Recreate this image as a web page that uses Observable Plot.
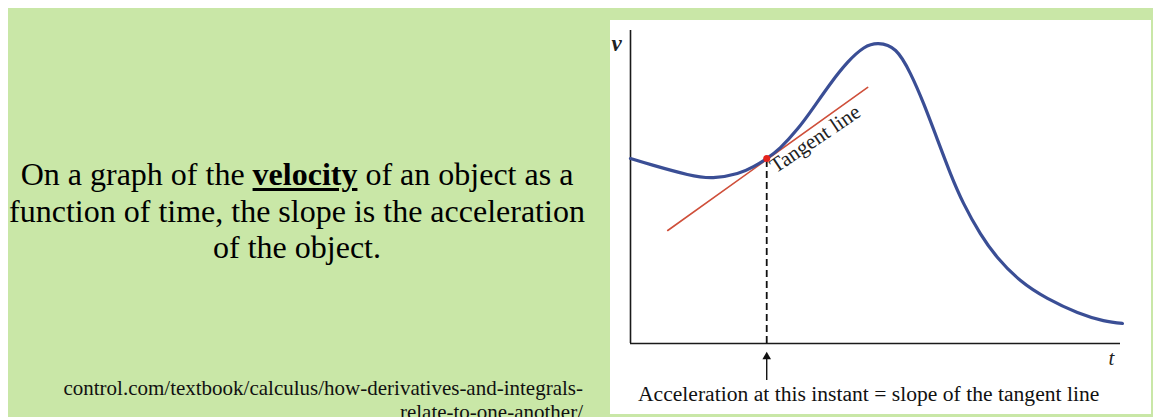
<!DOCTYPE html>
<html>
<head>
<meta charset="utf-8">
<script src="https://cdn.jsdelivr.net/npm/d3@7"></script>
<script src="https://cdn.jsdelivr.net/npm/@observablehq/plot@0.6"></script>
<style>
  html, body { margin: 0; padding: 0; background: #fff; overflow: hidden; }
  #slide { position: absolute; left: 8px; top: 8px; width: 1145px; height: 409px; background: #c9e7a7; }
  #main { position: absolute; left: 0; top: 156px; width: 594px; text-align: center; white-space: nowrap;
          font-family: "Liberation Serif", serif; font-size: 32px; line-height: 36.5px; color: #000; }
  #main b { text-decoration: underline; text-decoration-thickness: 3px; text-underline-offset: 3px; }
  #src { position: absolute; left: 0; top: 376px; width: 583px; text-align: right; white-space: nowrap;
         font-family: "Liberation Serif", serif; font-size: 21px; line-height: 24px; color: #111; }
  #panel { position: absolute; left: 610px; top: 20px; width: 541px; height: 394px; background: #fff; }
  #panel svg { display: block; }
  #caption { font-family: "Liberation Serif", serif; font-size: 21.6px; line-height: 26px; color: #111;
             padding-left: 28px; white-space: nowrap; }
</style>
</head>
<body>
<div id="slide"></div>
<div id="main">On a graph of the <b>velocity</b> of an object as a<br>function of time, the slope is the acceleration<br>of the object.</div>
<div id="src">control.com/textbook/calculus/how-derivatives-and-integrals-<br>relate-to-one-another/</div>
<div id="panel"><div id="chart"></div><div id="caption">Acceleration at this instant = slope of the tangent line</div></div>
<script>
// velocity curve (t, v)
const tValues = [0, 4.7, 11.6, 16.9, 21.8, 25.1, 27.8, 30.6, 34.1, 37.3, 40.8, 44.3, 47.6, 50.6, 54.1, 57.1, 59.8, 62.7, 65.3, 68.0, 71.4, 74.9, 79.6, 85.1, 91.2, 96.5, 100.4];
const vValues = [59.1, 56.9, 54.0, 53.0, 54.3, 56.5, 59.1, 62.6, 68.6, 75.3, 83.0, 89.8, 94.4, 95.8, 93.6, 86.3, 76.7, 64.9, 54.3, 44.7, 35.1, 27.5, 20.1, 14.4, 9.9, 7.3, 6.4];
// tangent line end points
const tangentT = [7.6, 48.4];
const tangentV = [36.1, 81.8];
// point of tangency
const pointT = 27.8;
const pointV = 59.1;
// arrow below the axis (v units)
const arrowFrom = -11.8;
const arrowTo = -4.2;
const labels = { v: "v", t: "t", tangent: "Tangent line" };

const curve = tValues.map((t, i) => ({t, v: vValues[i]}));
const tangent = tangentT.map((t, i) => ({t, v: tangentV[i]}));

const plot = Plot.plot({
  width: 541,
  height: 361,
  marginLeft: 20,
  marginRight: 31,
  marginTop: 10,
  marginBottom: 38,
  x: {domain: [0, 100], axis: null},
  y: {domain: [0, 100], axis: null},
  style: {background: "transparent", overflow: "visible"},
  marks: [
    Plot.ruleY([0], {stroke: "#1a1a1a", strokeWidth: 1.6}),
    Plot.ruleX([0], {stroke: "#1a1a1a", strokeWidth: 1.6}),
    Plot.ruleX([pointT], {y1: 0, y2: pointV, stroke: "#111", strokeWidth: 1.8, strokeDasharray: "7,4"}),
    Plot.line(tangent, {x: "t", y: "v", stroke: "#cf4f3a", strokeWidth: 1.6}),
    Plot.line(curve, {x: "t", y: "v", curve: "natural", stroke: "#3a4e95", strokeWidth: 3.2}),
    Plot.dot([{t: pointT, v: pointV}], {x: "t", y: "v", r: 3.5, fill: "#e5231d", stroke: "none"}),
    Plot.ruleX([pointT], {y1: arrowFrom, y2: arrowTo, stroke: "#111", strokeWidth: 1.4}),
    Plot.dot([{t: pointT, v: arrowTo}], {x: "t", y: "v", symbol: "triangle", r: 3.2, fill: "#111", stroke: "none"}),
    Plot.text([{t: pointT, v: pointV}], {x: "t", y: "v", text: () => labels.tangent, rotate: -34,
      textAnchor: "start", lineAnchor: "bottom", dx: 9, dy: 15, fontSize: 21, fontFamily: "Liberation Serif", fill: "#222"}),
    Plot.text([labels.v], {frameAnchor: "top-left", text: d => d, dx: -14, dy: 13, textAnchor: "middle", lineAnchor: "middle",
      fontSize: 23, fontStyle: "italic", fontWeight: "bold", fontFamily: "Liberation Serif", fill: "#222"}),
    Plot.text([labels.t], {frameAnchor: "bottom-right", text: d => d, dx: -9, dy: 15, textAnchor: "middle", lineAnchor: "middle",
      fontSize: 21, fontStyle: "italic", fontFamily: "Liberation Serif", fill: "#222"})
  ]
});
document.getElementById("chart").appendChild(plot);
</script>
</body>
</html>
